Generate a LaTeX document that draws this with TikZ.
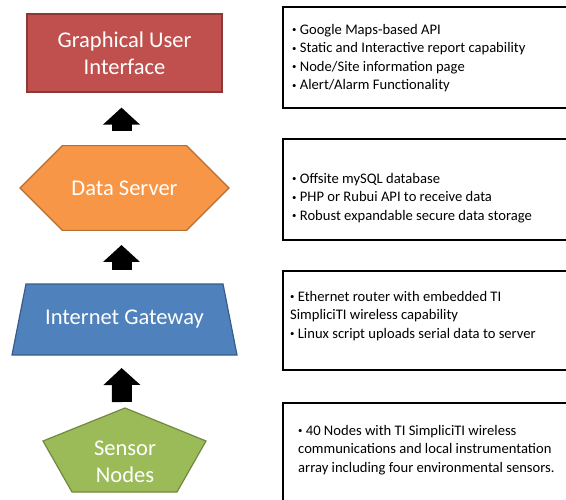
\documentclass[tikz,border=0pt]{standalone}
\usepackage{fontspec}
\setmainfont{Carlito}
\usetikzlibrary{shapes.misc,arrows.meta}

\definecolor{guifill}{HTML}{C0504D}
\definecolor{guiline}{HTML}{8C3836}
\definecolor{dsfill}{HTML}{F79646}
\definecolor{dsline}{HTML}{B66D31}
\definecolor{igfill}{HTML}{4F81BD}
\definecolor{igline}{HTML}{385D8A}
\definecolor{snfill}{HTML}{9BBB59}
\definecolor{snline}{HTML}{71893F}

\newcommand{\itembullet}{\raisebox{0.25ex}{\scalebox{0.6}{\textbullet}}\ }

\tikzset{
  layer/.style={text=white, font=\fontsize{22.5}{27}\selectfont, align=center, line width=1.2pt, inner sep=0pt},
  infobox/.style={draw=black, line width=1.8pt, minimum width=300pt, anchor=north west, inner sep=0pt},
  infotext/.style={anchor=north west, align=left, font=\fontsize{14.6}{18.5}\selectfont, inner sep=0pt},
  uparrow/.style={line width=20pt, -{Triangle[width=36pt,length=17pt]}}
}

\begin{document}
\begin{tikzpicture}[x=1pt, y=-1pt]
\useasboundingbox (0,0) rectangle (566,499);
\clip (0,0) rectangle (566,499);

% the four layers
\node[layer, rectangle, fill=guifill, draw=guiline, minimum width=195pt, minimum height=78pt] (gui) at (124.5,53) {Graphical User\\Interface};
\node[layer, chamfered rectangle, chamfered rectangle xsep=15pt, chamfered rectangle ysep=35pt, fill=dsfill, draw=dsline, minimum width=209pt, minimum height=70pt] (ds) at (124.5,188) {Data Server};
\draw[fill=igfill, draw=igline, line width=1.2pt] (26,284) -- (124.5,284) coordinate (igtop) -- (223,284) -- (237,355) -- (124.5,355) coordinate (igbot) -- (12,355) -- cycle;
\node[layer] (ig) at (124.5,319.5) {Internet Gateway};
\draw[fill=snfill, draw=snline, line width=1.2pt] (125,408) coordinate (sntop) -- (206,441) -- (177,492) -- (72,492) -- (43,441) -- cycle;
\node[layer] (sn) at (125,462) {Sensor\\Nodes};

% arrows between layers
\draw[uparrow, shorten <=14pt, shorten >=15pt] ([xshift=-3pt]ds.north) -- ([xshift=-3pt]gui.south);
\draw[uparrow, shorten <=14pt, shorten >=14pt] ([xshift=-3pt]igtop) -- ([xshift=-3pt]ds.south);
\draw[uparrow, shorten <=6pt, shorten >=13pt] ([xshift=-3pt]sntop) -- ([xshift=-3pt]igbot);

% descriptions
\node[infobox, minimum height=101pt] (guibox) at (282,6) {};
\node[infotext] (guitext) at (292,24) {\itembullet Google Maps-based API\\\itembullet Static and Interactive report capability\\\itembullet Node/Site information page\\\itembullet Alert/Alarm Functionality};

\node[infobox, minimum height=101pt] (dsbox) at (282,138) {};
\node[infotext] (dstext) at (292,173) {\itembullet Offsite mySQL database\\\itembullet PHP or Rubui API to receive data\\\itembullet Robust expandable secure data storage};

\node[infobox, minimum height=99pt] (igbox) at (282,270) {};
\node[infotext] (igtext) at (290,291) {\itembullet Ethernet router with embedded TI\\SimpliciTI wireless capability\\\itembullet Linux script uploads serial data to server};

\node[infobox, minimum height=110pt] (snbox) at (282,402) {};
\node[infotext] (sntext) at (298,425) {\itembullet 40 Nodes with TI SimpliciTI wireless\\communications and local instrumentation\\array including four environmental sensors.};
\end{tikzpicture}
\end{document}
